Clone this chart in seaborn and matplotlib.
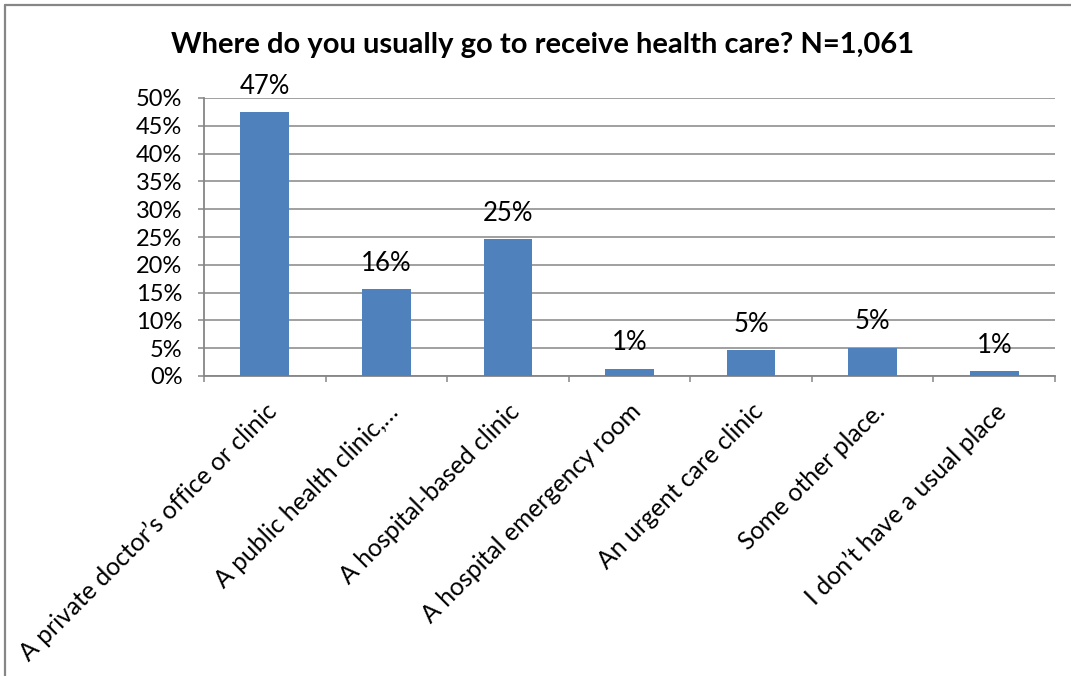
import matplotlib
matplotlib.use("Agg")
import matplotlib.pyplot as plt
from matplotlib.lines import Line2D
from matplotlib.ticker import FixedLocator, FuncFormatter
import seaborn as sns
import pandas as pd

categories = [
    "A private doctor\u2019s office or clinic",
    "A public health clinic,\u2026",
    "A hospital-based clinic",
    "A hospital emergency room",
    "An urgent care clinic",
    "Some other place.",
    "I don\u2019t have a usual place",
]
shares = [47.4, 15.6, 24.6, 1.3, 4.6, 5.1, 0.9]
y_ticks = [0, 5, 10, 15, 20, 25, 30, 35, 40, 45, 50]
title = "Where do you usually go to receive health care? N=1,061"

sns.set_theme(style="white")
plt.rcParams["font.family"] = ["Lato", "DejaVu Sans"]

grey = "#868686"
bar_color = "#4F81BD"

df = pd.DataFrame({"place": categories, "share": shares})

fig = plt.figure(figsize=(10.71, 6.76), dpi=100)
ax = fig.add_axes([204 / 1071, 1 - 376 / 676, (1055 - 204) / 1071, (376 - 98) / 676])

sns.barplot(data=df, x="place", y="share", color=bar_color, width=0.4,
            saturation=1, linewidth=0, ax=ax, zorder=3)

ax.set_ylim(0, 50)
ax.set_xlim(-0.5, len(categories) - 0.5)
ax.yaxis.set_major_locator(FixedLocator(y_ticks))
ax.yaxis.set_major_formatter(FuncFormatter(lambda v, _: f"{v:.0f}%"))
ax.grid(axis="y", color=grey, linewidth=1.1, zorder=0)
ax.set_axisbelow(True)
ax.set_xlabel("")
ax.set_ylabel("")

for side in ("top", "right"):
    ax.spines[side].set_visible(False)
for side in ("left", "bottom"):
    ax.spines[side].set_color(grey)
    ax.spines[side].set_linewidth(1.3)

ax.tick_params(axis="y", which="major", left=True, length=4.5, width=1.1,
               color=grey, labelsize=17, labelcolor="black", pad=11)
ax.set_xticks(range(len(categories)))
ax.set_xticklabels(categories, rotation=45, ha="right", va="top",
                   rotation_mode="anchor", fontsize=17.8, color="black")
ax.tick_params(axis="x", which="major", length=0, pad=17)
ax.set_xticks([i - 0.5 for i in range(len(categories) + 1)], minor=True)
ax.tick_params(axis="x", which="minor", bottom=True, length=4.5, width=1.1,
               color=grey)

for i, v in enumerate(shares):
    ax.text(i, v + 2.4, f"{round(v):.0f}%", ha="center", va="bottom",
            fontsize=18.5, color="black")

fig.text(543 / 1071, 1 - 45 / 676, title, ha="center", va="center",
         fontsize=21, fontweight="bold", color="black")

# chart-area frame (left and top edges)
fig.add_artist(Line2D([4.5 / 1071, 4.5 / 1071], [0, 1 - 5 / 676],
                      transform=fig.transFigure, color=grey, linewidth=1.6))
fig.add_artist(Line2D([4.5 / 1071, 1], [1 - 5 / 676, 1 - 5 / 676],
                      transform=fig.transFigure, color=grey, linewidth=1.6))

fig.savefig("out.png", dpi=100)
